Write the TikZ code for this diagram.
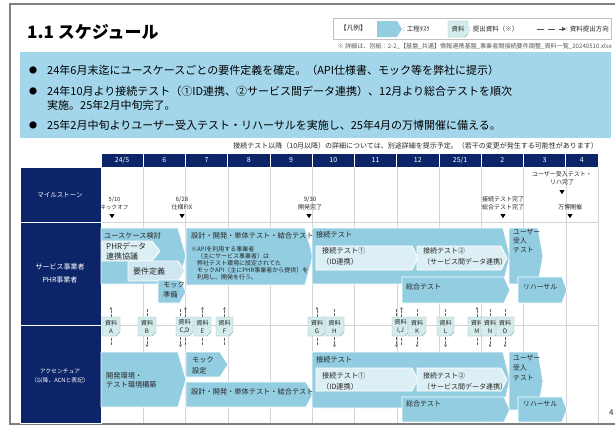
\documentclass[tikz,border=0pt]{standalone}
\usepackage{fontspec}
\setmainfont{Noto Sans CJK JP}
\usetikzlibrary{arrows.meta}
\definecolor{navy}{HTML}{0C2468}
\definecolor{taskblue}{HTML}{93CDE1}
\definecolor{lightbox}{HTML}{DCEFF5}
\definecolor{lightbox2}{HTML}{CFE7F0}
\definecolor{banner}{HTML}{A3D6EA}
\definecolor{tagfill}{HTML}{D4ECEC}
\definecolor{tagline}{HTML}{8DB0B0}
\definecolor{gridgray}{HTML}{D4D4D4}
\definecolor{framegray}{HTML}{808080}
\definecolor{txt}{HTML}{262626}
\newcommand\myfs[2]{\fontsize{#1}{#2}\selectfont}
\newcommand\hplate[6]{\path[#1] (#2,#3) -- ({#4-#6},#3) -- (#4,{(#3+#5)/2}) -- ({#4-#6},#5) -- (#2,#5) -- cycle;}
\newcommand\doctag[4]{%
  \path[doctagbox] (#2,317) -- (#3,317) -- (#3,332) -- ({#3-4},336) -- (#2,336) -- cycle;
  \node[doctagtxt, minimum width={#3-#2}] (#1) at ({(#2+#3)/2},326.5) {資料\\#4};}
\begin{document}
\begin{tikzpicture}[x=1pt,y=-1pt,
  task/.style={fill=taskblue,draw=white,line width=0.8pt},
  lighttask/.style={fill=lightbox,draw=white,line width=0.8pt},
  lighttaskb/.style={fill=lightbox2,draw=white,line width=0.8pt},
  doctagbox/.style={fill=tagfill,draw=tagline,line width=0.4pt},
  doctagtxt/.style={inner sep=0pt,minimum height=19pt,align=center,text=txt,font=\myfs{6.2}{8}},
  tasktxt/.style={inner sep=0pt,anchor=west,align=left,text=txt,font=\myfs{7.2}{9}},
  mstxt/.style={inner sep=0pt,align=center,text=txt,font=\myfs{6}{8}},
  lefttxt/.style={inner sep=0pt,align=center,text=white},
  monthtxt/.style={inner sep=0pt,text=white,font=\myfs{7}{7}},
  docar/.style={draw=black!60,line width=0.5pt,dash pattern=on 2.5pt off 1.5pt},
  doctip/.style={-{Triangle[length=2.6pt,width=2.6pt]}},
  msmark/.style={fill=black}
]
\useasboundingbox (0,0) rectangle (615,426);
% frame
\draw[framegray,line width=1.6pt] (615,4) -- (10,4) -- (10,424) -- (615,424);
% title
\node[anchor=west,inner sep=0pt,font=\bfseries\myfs{17}{17}] (title) at (27,32) {1.1 スケジュール};
% legend
\draw[black!25,fill=white,line width=0.6pt] (333,18) rectangle (611,39);
\node[anchor=west,inner sep=0pt,font=\myfs{6.6}{7},text=txt] (lg1) at (340,28) {【凡例】};
\hplate{fill=taskblue}{377}{21}{402}{37}{5}
\node[anchor=west,inner sep=0pt,font=\myfs{6.5}{7},text=txt] (lg2) at (403,29) {: 工程ﾀｽｸ};
\path[doctagbox] (448,21) -- (468,21) -- (468,34) -- (465,37) -- (448,37) -- cycle;
\node[inner sep=0pt,font=\myfs{6.3}{7},text=txt] (lg3) at (458,29) {資料};
\node[anchor=west,inner sep=0pt,font=\myfs{6.5}{7},text=txt] (lg4) at (469,29) {: 提出資料（※）};
\coordinate (lga) at (537,29);
\coordinate (lgb) at (566,29);
\draw[black!70,line width=0.6pt,dash pattern=on 7pt off 4pt,-{Triangle[length=4pt,width=4pt]}] (lga) -- (lgb);
\node[anchor=west,inner sep=0pt,font=\myfs{6.5}{7},text=txt] (lg5) at (566,29) {: 資料提出方向};
\node[anchor=east,inner sep=0pt,font=\myfs{6.1}{7},text=black!65] (foot) at (612,46) {※ 詳細は、別紙：2-2\_【基盤\_共通】情報連携基盤\_事業者間接続要件調整\_資料一覧\_20240510.xlsx};
% banner
\fill[banner] (20,52) rectangle (611,138);
\foreach \yy/\nm in {70/b1,91/b2,125/b4}{\node[inner sep=0pt,font=\myfs{8}{8}] (\nm) at (33,\yy) {●};}
\node[anchor=west,inner sep=0pt,font=\myfs{11}{12}] (l1) at (47,70) {24年6月末迄にユースケースごとの要件定義を確定。（API仕様書、モック等を弊社に提示）};
\node[anchor=west,inner sep=0pt,font=\myfs{11}{12}] (l2) at (47,91) {24年10月より接続テスト（①ID連携、②サービス間データ連携）、12月より総合テストを順次};
\node[anchor=west,inner sep=0pt,font=\myfs{11}{12}] (l3) at (47,105) {実施。25年2月中旬完了。};
\node[anchor=west,inner sep=0pt,font=\myfs{11}{12}] (l4) at (47,125) {25年2月中旬よりユーザー受入テスト・リハーサルを実施し、25年4月の万博開催に備える。};
% top note
\node[anchor=east,inner sep=0pt,font=\myfs{7}{7},text=txt] (note) at (598,146) {接続テスト以降（10月以降）の詳細については、別途詳細を提示予定。（若干の変更が発生する可能性があります）};
% header
\foreach \a/\b/\m [count=\i] in {101/143.25/{24/5},143.25/185.5/6,185.5/227.75/7,227.75/270/8,270/312.25/9,312.25/354.5/10,354.5/396.75/11,396.75/439/12,439/481.25/{25/1},481.25/523.5/2,523.5/565.75/3,565.75/598/4}{
  \draw[white,line width=0.6pt,fill=navy] (\a,153) rectangle (\b,167);
  \node[monthtxt] (m\i) at ({(\a+\b)/2},160) {\m};
}
% grid
\foreach \xx in {143.25,185.5,227.75,270,312.25,354.5,396.75,439,481.25,523.5,565.75,598}{
  \draw[gridgray,line width=0.5pt] (\xx,167) -- (\xx,423);
}
\draw[gridgray,line width=0.5pt] (101,222) -- (598,222);
\draw[gridgray,line width=0.5pt] (101,325) -- (598,325);
% left labels
\draw[white,line width=0.8pt,fill=navy] (20,167) rectangle (101,222);
\draw[white,line width=0.8pt,fill=navy] (20,222) rectangle (101,325);
\draw[white,line width=0.8pt,fill=navy] (20,325) rectangle (101,423);
\node[lefttxt,font=\myfs{6.5}{8}] (lbms) at (60,195) {マイルストーン};
\node[lefttxt,font=\myfs{7}{13}] (lbsv) at (60,273.5) {サービス事業者\\PHR事業者};
\node[lefttxt,font=\myfs{5.8}{9}] (lbacn) at (60,375.5) {アクセンチュア\\（以降、ACNと表記）};
% milestones
\node[mstxt,font=\myfs{5.6}{8}] (ms1) at (114.5,203) {5/10\\キックオフ};
\node[mstxt] (ms2) at (182,203) {6/28\\仕様FIX};
\node[mstxt] (ms3) at (310,203) {9/30\\開発完了};
\node[mstxt] (ms4) at (503,203) {接続テスト完了\\総合テスト完了};
\node[mstxt] (ms5) at (562,178) {ユーザー受入テスト・\\リハ完了};
\node[mstxt] (ms6) at (570,207) {万博開催};
\foreach \xx/\yy in {112/216,182/216,309/216,503/216,562/192,570/216}{
  \fill[msmark] ({\xx-2.6},{\yy-2}) -- ({\xx+2.6},{\yy-2}) -- (\xx,{\yy+2.2}) -- cycle;
}
% service row
\hplate{task}{101}{228}{186}{284}{8}
\hplate{lighttask}{102}{241}{160}{261}{8}
\hplate{lighttaskb}{128}{261}{185}{281}{7}
\hplate{task}{158}{280}{186}{303}{6}
\hplate{task}{186}{228}{313}{285}{8}
\hplate{task}{312}{228}{510}{284}{7}
\hplate{lighttask}{316}{246}{418}{270}{6}
\hplate{lighttask}{417}{246}{507}{270}{6}
\hplate{task}{402}{277}{510}{303}{6}
\hplate{task}{509}{228}{543}{284}{5}
\hplate{task}{518}{277}{567}{303}{5}
\node[tasktxt] (t1) at (104,236) {ユースケース検討};
\node[tasktxt,font=\myfs{8}{10}] (t2) at (106,251) {PHRデータ\\連携協議};
\node[tasktxt,font=\myfs{8}{10}] (t3) at (133,271) {要件定義};
\node[tasktxt,font=\myfs{7.2}{10}] (t4) at (163,290) {モック\\準備};
\node[tasktxt] (t5) at (191,236) {設計・開発・単体テスト・結合テスト};
\node[tasktxt,font=\myfs{6}{7}] (t6a) at (191,249) {※};
\node[tasktxt,font=\myfs{6}{7}] (t6) at (197,263) {APIを利用する事業者\\（主にサービス事業者）は\\弊社テスト環境に設定されてた\\モックAPI（主にPHR事業者から提供）を\\利用し、開発を行う。};
\node[tasktxt] (t7) at (316,235) {接続テスト};
\node[tasktxt,font=\myfs{7.2}{11}] (t8) at (322,256.5) {接続テスト①\\（ID連携）};
\node[tasktxt,font=\myfs{7}{11}] (t9) at (423,256.5) {接続テスト②\\（サービス間データ連携）};
\node[tasktxt,font=\myfs{7}{9}] (t10) at (406,287) {総合テスト};
\node[tasktxt,font=\myfs{6.8}{9}] (t11) at (513,241) {ユーザー\\受入\\テスト};
\node[tasktxt,font=\myfs{6.8}{9}] (t12) at (523,287) {リハーサル};
% documents
\doctag{dA}{102}{120}{A}
\doctag{dB}{138}{156}{B}
\doctag{dCD}{176}{193}{C,D}
\doctag{dE}{194}{211}{E}
\doctag{dF}{216}{233}{F}
\doctag{dG}{308}{326}{G}
\doctag{dH}{325}{344}{H}
\doctag{dIJ}{392}{409}{I,J}
\doctag{dK}{408}{426}{K}
\doctag{dL}{437}{454}{L}
\doctag{dM}{468}{486}{M}
\doctag{dN}{481}{499}{N}
\doctag{dO}{496}{514}{O}
% arrows: up
\foreach \nd/\sh in {dA/0,dCD/1,dE/0,dF/0,dG/0,dIJ/1,dM/0}{
  \draw[docar,doctip] ([xshift=\sh*1pt]\nd.north) -- ++(0,-10);
  \draw[docar] ([xshift=\sh*1pt]\nd.south) ++(0,2) -- ++(0,8);
}
% arrows: down
\foreach \nd/\sh in {dB/0,dCD/-4,dH/0,dIJ/-4,dK/0,dL/0,dN/0,dO/0}{
  \draw[docar] ([xshift=\sh*1pt]\nd.north) ++(0,-1) -- ++(0,-8);
  \draw[docar,doctip] ([xshift=\sh*1pt]\nd.south) ++(0,1) -- ++(0,10);
}
% ACN row
\hplate{task}{101}{352}{186}{407}{8}
\hplate{task}{186}{352}{228}{377}{8}
\hplate{task}{186}{382}{313}{407}{7}
\hplate{task}{312}{352}{510}{408}{7}
\hplate{lighttask}{316}{368}{418}{391}{6}
\hplate{lighttask}{417}{368}{507}{391}{6}
\hplate{task}{402}{397}{510}{422}{6}
\hplate{task}{509}{352}{543}{410}{5}
\hplate{task}{518}{397}{567}{422}{5}
\node[tasktxt,font=\myfs{7.2}{9}] (a1) at (106,380) {開発環境・\\テスト環境構築};
\node[tasktxt,font=\myfs{7.2}{11}] (a2) at (192,365) {モック\\設定};
\node[tasktxt] (a3) at (191,392) {設計・開発・単体テスト・結合テスト};
\node[tasktxt] (a4) at (316,360) {接続テスト};
\node[tasktxt,font=\myfs{7.2}{11}] (a5) at (322,381.5) {接続テスト①\\（ID連携）};
\node[tasktxt,font=\myfs{7}{11}] (a6) at (423,381.5) {接続テスト②\\（サービス間データ連携）};
\node[tasktxt,font=\myfs{7}{9}] (a7) at (406,404) {総合テスト};
\node[tasktxt,font=\myfs{6.8}{10}] (a8) at (513,368) {ユーザー\\受入\\テスト};
\node[tasktxt,font=\myfs{6.8}{9}] (a9) at (523,404) {リハーサル};
% page number
\node[anchor=west,inner sep=0pt,font=\myfs{8}{8},text=txt] (pg) at (609,413) {4};
\end{tikzpicture}
\end{document}
